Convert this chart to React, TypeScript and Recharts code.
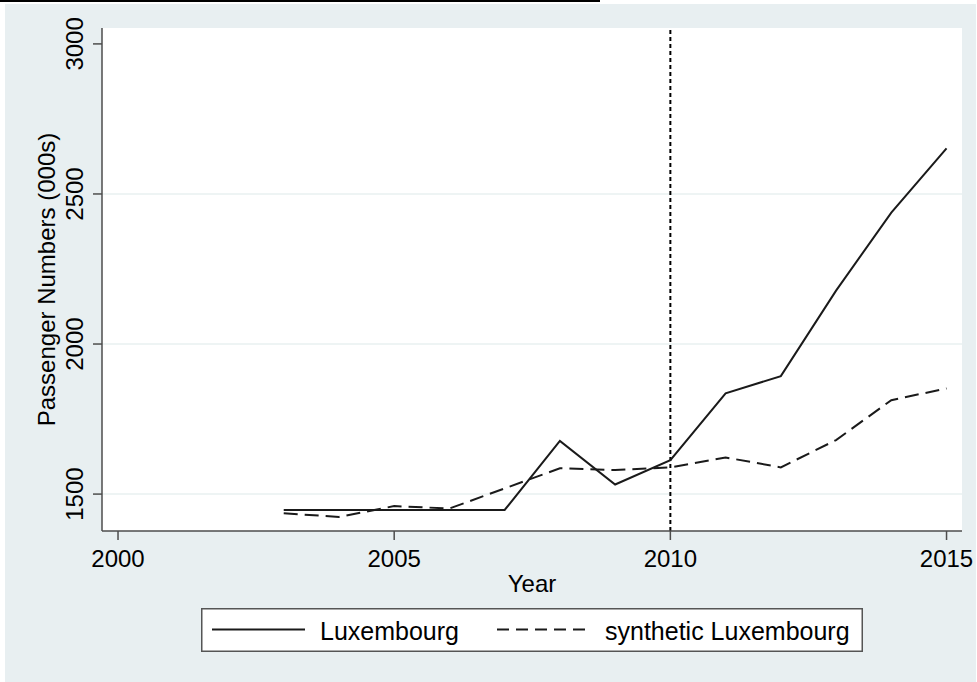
import React from 'react';
import { LineChart, Line, XAxis, YAxis, CartesianGrid, ReferenceLine, Legend, Label } from 'recharts';

const years = [2003, 2004, 2005, 2006, 2007, 2008, 2009, 2010, 2011, 2012, 2013, 2014, 2015];
const luxembourg = [1447, 1447, 1447, 1447, 1447, 1677, 1532, 1613, 1836, 1893, 2178, 2438, 2652];
const synthetic = [1436, 1424, 1460, 1452, 1519, 1586, 1580, 1589, 1622, 1589, 1680, 1813, 1852];
const xTicks = [2000, 2005, 2010, 2015];
const yTicks = [1500, 2000, 2500, 3000];
const gridValues = [1500, 2000, 2500];
const treatmentYear = 2010;
const seriesNames = ['Luxembourg', 'synthetic Luxembourg'];
const xTitle = 'Year';
const yTitle = 'Passenger Numbers (000s)';

const data = years.map((year, i) => ({ year, lux: luxembourg[i], syn: synthetic[i] }));

const FONT = '"Liberation Sans", Arial, sans-serif';
const AXIS = '#4d4d4d';
const INK = '#1a1a1a';

const XTick = (props: any) => {
  const { x, y, payload } = props;
  return (
    <text x={x} y={y + 25} textAnchor="middle" fontFamily={FONT} fontSize={24} fill="#000">
      {payload.value}
    </text>
  );
};

const YTick = (props: any) => {
  const { x, y, payload } = props;
  const bx = x - 8;
  return (
    <text x={bx} y={y} transform={`rotate(-90, ${bx}, ${y})`} textAnchor="middle" fontFamily={FONT} fontSize={24} fill="#000">
      {payload.value}
    </text>
  );
};

const XTitle = (props: any) => {
  const vb = props.viewBox || {};
  const cx = vb.x + vb.width / 2;
  const by = vb.y + 61;
  return (
    <text x={cx} y={by} textAnchor="middle" fontFamily={FONT} fontSize={24} fill="#000">
      {xTitle}
    </text>
  );
};

const YTitle = (props: any) => {
  const vb = props.viewBox || {};
  const cy = vb.y + vb.height / 2;
  const bx = vb.x + 55;
  return (
    <text x={bx} y={cy} transform={`rotate(-90, ${bx}, ${cy})`} textAnchor="middle" fontFamily={FONT} fontSize={24} fill="#000">
      {yTitle}
    </text>
  );
};

const LegendBox = () => (
  <svg width={662} height={44} style={{ display: 'block' }}>
    <rect x={0.75} y={0.75} width={660.5} height={42.5} fill="#ffffff" stroke="#555" strokeWidth={1.5} />
    <line x1={11} x2={104} y1={21.5} y2={21.5} stroke={INK} strokeWidth={2} />
    <text x={119} y={32} fontFamily={FONT} fontSize={25} fill="#000">{seriesNames[0]}</text>
    <line x1={296} x2={388} y1={21.5} y2={21.5} stroke={INK} strokeWidth={2} strokeDasharray="12 7" />
    <text x={404} y={32} fontFamily={FONT} fontSize={25} fill="#000">{seriesNames[1]}</text>
  </svg>
);

export default function App() {
  return (
    <div style={{ position: 'absolute', left: 0, top: 0, width: 977, height: 682, background: '#ffffff', overflow: 'hidden' }}>
      <div style={{ position: 'absolute', left: 5, top: 4, width: 971, height: 678, background: '#e8eff1' }} />
      <div style={{ position: 'absolute', left: 0, top: 0, width: 600, height: 1.5, background: '#000' }} />
      <div style={{ position: 'absolute', left: 0, top: 0 }}>
        <LineChart width={977} height={682} data={data} margin={{ top: 28, right: 15, bottom: 0, left: 0 }}>
          <CartesianGrid horizontal={false} vertical={false} fill="#ffffff" />
          {gridValues.map((v) => (
            <ReferenceLine key={v} y={v} stroke="#e9f0f1" strokeWidth={1.5} />
          ))}
          <XAxis
            dataKey="year"
            type="number"
            domain={[1999.71, 2015.28]}
            ticks={xTicks}
            allowDataOverflow
            height={151}
            tickSize={9}
            tickMargin={2}
            axisLine={{ stroke: AXIS, strokeWidth: 1.5 }}
            tickLine={{ stroke: AXIS, strokeWidth: 1.5 }}
            tick={<XTick />}
          >
            <Label content={<XTitle />} />
          </XAxis>
          <YAxis
            type="number"
            domain={[1377, 3053]}
            ticks={yTicks}
            allowDataOverflow
            width={102}
            tickSize={9}
            tickMargin={2}
            axisLine={{ stroke: AXIS, strokeWidth: 1.5 }}
            tickLine={{ stroke: AXIS, strokeWidth: 1.5 }}
            tick={<YTick />}
          >
            <Label content={<YTitle />} />
          </YAxis>
          <ReferenceLine x={treatmentYear} stroke="#000" strokeWidth={2} strokeDasharray="4 3" />
          <Line type="linear" dataKey="lux" name={seriesNames[0]} stroke={INK} strokeWidth={2} dot={false} isAnimationActive={false} />
          <Line type="linear" dataKey="syn" name={seriesNames[1]} stroke={INK} strokeWidth={2} strokeDasharray="14 7" dot={false} isAnimationActive={false} />
          <Legend
            layout="horizontal"
            verticalAlign="middle"
            align="center"
            content={<LegendBox />}
            wrapperStyle={{ left: 201, top: 608, width: 662, height: 44 }}
          />
        </LineChart>
      </div>
    </div>
  );
}
